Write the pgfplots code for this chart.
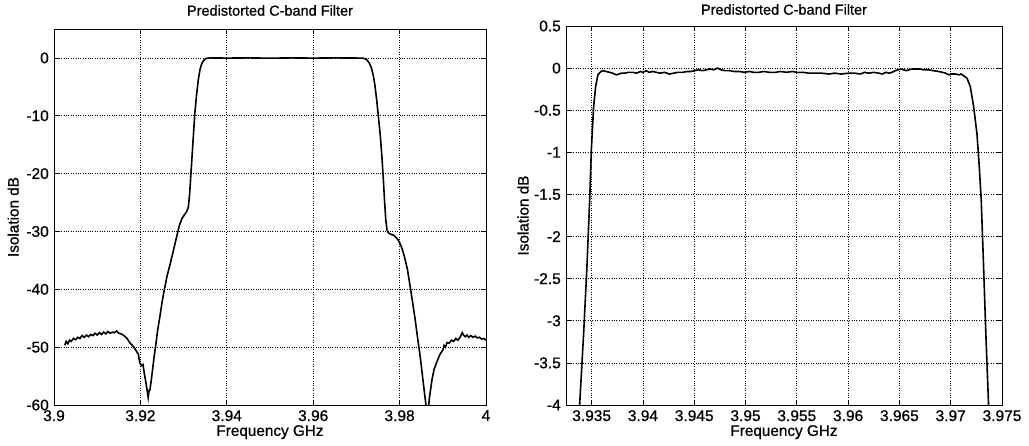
\documentclass[border=0pt]{standalone}
\usepackage{pgfplots}
\pgfplotsset{compat=1.18}
\usepackage{fontspec}
\setmainfont{Liberation Sans}[FakeBold=0.8]
\newcommand{\tlf}{\fontsize{15.5}{15.5}\selectfont}
\newcommand{\lbf}{\fontsize{15.3}{15.3}\selectfont}

\pgfplotsset{
  every axis title shift=0pt,
  matlabstyle/.style={
    scale only axis,
    axis line style={black, line width=0.9pt},
    grid=major,
    major grid style={black, dotted, line width=0.7pt},
    tick align=inside,
    major tick length=5pt,
    tick style={black, line width=0.7pt},
    /pgf/number format/assume math mode=true,
    xticklabel style={font=\tlf, inner sep=0pt, anchor=north, yshift=-5pt},
    yticklabel style={font=\tlf, inner sep=0pt, anchor=east, xshift=-5pt},
    xlabel style={font=\lbf, inner sep=0pt, at={(axis description cs:0.5,0)}, anchor=north, yshift=-20pt},
    ylabel style={font=\lbf, inner sep=0pt, anchor=south},
    title style={font=\fontsize{14.5}{14.5}\selectfont, inner sep=0pt, anchor=south},
    clip=true,
  }
}

\begin{document}
\begin{tikzpicture}
\useasboundingbox (0pt,0pt) rectangle (1029pt,445pt);

% ---------------- left axis ----------------
\begin{axis}[matlabstyle,
  at={(54pt,40pt)}, anchor=south west,
  width=432pt, height=376pt,
  xmin=3.9, xmax=4, ymin=-60, ymax=5,
  xtick={3.9,3.92,3.94,3.96,3.98,4},
  xticklabels={3.9,3.92,3.94,3.96,3.98,4},
  ytick={0,-10,-20,-30,-40,-50,-60},
  yticklabels={0,-10,-20,-30,-40,-50,-60},
  title={Predistorted C-band Filter},
  title style={at={(axis description cs:0.5,1)}, yshift=13pt},
  xlabel={Frequency GHz},
  ylabel={Isolation dB},
  ylabel style={at={(axis description cs:-0.081,0.5)}},
]
\addplot[black, line width=1.6pt] coordinates {
(3.9025,-49.7) (3.9028,-49.0) (3.9032,-49.4) (3.9036,-48.8) (3.9040,-49.0)
(3.9045,-48.5) (3.9050,-48.7) (3.9055,-48.3) (3.9060,-48.5) (3.9065,-48.0)
(3.9070,-48.3) (3.9075,-47.9) (3.9080,-48.2) (3.9085,-47.8) (3.9090,-48.0)
(3.9095,-47.6) (3.9100,-47.9) (3.9105,-47.5) (3.9110,-47.8) (3.9115,-47.4)
(3.9120,-47.7) (3.9125,-47.3) (3.9130,-47.6) (3.9135,-47.4) (3.9140,-47.5)
(3.9145,-47.2) (3.9150,-47.6) (3.9155,-47.7) (3.9160,-47.9) (3.9165,-48.2)
(3.9170,-48.6) (3.9175,-49.2) (3.9180,-49.6) (3.9185,-50.0) (3.9190,-50.6)
(3.9195,-51.2) (3.9199,-52.8) (3.9203,-53.2) (3.9206,-53.0) (3.9209,-54.5)
(3.9212,-55.8) (3.9215,-57.2) (3.9218,-58.7) (3.9220,-57.5) (3.9222,-57.4)
(3.9225,-55.8) (3.9228,-54.0) (3.9232,-51.5) (3.9236,-49.4) (3.9240,-47.0)
(3.9245,-44.8) (3.9250,-42.3) (3.9255,-40.2) (3.9262,-37.6) (3.9269,-35.6)
(3.9276,-33.4) (3.9284,-30.9) (3.9290,-29.0) (3.9296,-27.8) (3.9302,-27.1)
(3.9307,-26.6) (3.9311,-25.8) (3.9314,-23.5) (3.9317,-20.0) (3.9320,-16.5)
(3.9323,-13.0) (3.9326,-9.6) (3.9330,-6.4) (3.9334,-3.8) (3.9338,-2.0)
(3.9342,-1.0) (3.9347,-0.4) (3.9352,-0.08) (3.9360,0) (3.9400,-0.03)
(3.9450,0) (3.9500,-0.04) (3.9550,0) (3.9600,-0.03) (3.9650,0) (3.9700,-0.02)
(3.9716,-0.05) (3.9720,-0.15) (3.9725,-0.4) (3.9730,-0.9) (3.9735,-1.8)
(3.9739,-3.0) (3.9743,-4.8) (3.9747,-7.3) (3.9751,-10.2) (3.9755,-13.2)
(3.9759,-17.0) (3.9762,-20.5) (3.9765,-24.5) (3.9768,-28.0) (3.9771,-29.8)
(3.9775,-30.3) (3.9780,-30.5) (3.9785,-30.6) (3.9790,-30.9) (3.9795,-31.3)
(3.9800,-31.9) (3.9806,-33.0) (3.9812,-34.6) (3.9818,-36.5) (3.9824,-39.3)
(3.9830,-42.2) (3.9836,-45.2) (3.9842,-48.6) (3.9848,-51.8) (3.9853,-55.0)
(3.9858,-58.2) (3.9862,-60.5) (3.9866,-61.0) (3.9869,-58.8) (3.9872,-57.2)
(3.9875,-55.6) (3.9880,-53.8) (3.9886,-52.6) (3.9893,-51.3) (3.9900,-50.5)
(3.9903,-49.7) (3.9906,-50.0) (3.9910,-49.2) (3.9915,-49.3) (3.9920,-48.8)
(3.9925,-49.0) (3.9930,-48.5) (3.9935,-48.8) (3.9940,-48.3) (3.9945,-47.5)
(3.9948,-47.9) (3.9952,-48.2) (3.9956,-47.9) (3.9960,-48.3) (3.9965,-48.0)
(3.9970,-48.3) (3.9975,-48.1) (3.9980,-48.4) (3.9985,-48.3) (3.9990,-48.6)
(3.9995,-48.5) (4.0000,-48.8)
};
\end{axis}

% ---------------- right axis ----------------
\begin{axis}[matlabstyle,
  at={(566pt,40pt)}, anchor=south west,
  width=436pt, height=379pt,
  xmin=3.9325, xmax=3.975, ymin=-4, ymax=0.5,
  xtick={3.935,3.94,3.945,3.95,3.955,3.96,3.965,3.97,3.975},
  xticklabels={3.935,3.94,3.945,3.95,3.955,3.96,3.965,3.97,3.975},
  ytick={0.5,0,-0.5,-1,-1.5,-2,-2.5,-3,-3.5,-4},
  yticklabels={0.5,0,-0.5,-1,-1.5,-2,-2.5,-3,-3.5,-4},
  title={Predistorted C-band Filter},
  title style={at={(axis description cs:0.5,1)}, yshift=11pt},
  xlabel={Frequency GHz},
  ylabel={Isolation dB},
  ylabel style={at={(axis description cs:-0.085,0.5)}},
]
\addplot[black, line width=1.6pt] coordinates {
(3.93383,-4.0) (3.93422,-3.15) (3.93454,-2.36) (3.93481,-1.56) (3.93497,-0.97)
(3.93519,-0.46) (3.93539,-0.22) (3.93561,-0.08) (3.93590,-0.04) (3.93610,-0.03)
(3.93640,-0.04) (3.93675,-0.05) (3.93705,-0.06) (3.93740,-0.08) (3.93765,-0.07)
(3.93789,-0.06) (3.93820,-0.06) (3.93860,-0.05) (3.93902,-0.05) (3.93940,-0.06)
(3.93975,-0.04) (3.94000,-0.05) (3.94032,-0.03) (3.94060,-0.05) (3.94096,-0.04)
(3.94130,-0.05) (3.94170,-0.06) (3.94210,-0.05) (3.94258,-0.07) (3.94300,-0.06)
(3.94340,-0.05) (3.94388,-0.05) (3.94430,-0.04) (3.94470,-0.04) (3.94501,-0.03)
(3.94540,-0.02) (3.94580,-0.03) (3.94620,-0.02) (3.94647,-0.01) (3.94690,-0.02)
(3.94728,0.00) (3.94760,-0.02) (3.94800,-0.03) (3.94842,-0.03) (3.94890,-0.04)
(3.94940,-0.04) (3.94990,-0.05) (3.95036,-0.04) (3.95080,-0.05) (3.95130,-0.05)
(3.95180,-0.04) (3.95230,-0.05) (3.95296,-0.05) (3.95340,-0.04) (3.95400,-0.05)
(3.95457,-0.04) (3.95500,-0.05) (3.95560,-0.05) (3.95619,-0.06) (3.95680,-0.06)
(3.95740,-0.06) (3.95814,-0.07) (3.95870,-0.06) (3.95930,-0.07) (3.96008,-0.06)
(3.96060,-0.06) (3.96120,-0.07) (3.96160,-0.05) (3.96203,-0.06) (3.96250,-0.05)
(3.96300,-0.06) (3.96332,-0.07) (3.96370,-0.05) (3.96400,-0.06) (3.96429,-0.05)
(3.96460,-0.03) (3.96490,-0.02) (3.96511,-0.01) (3.96540,-0.02) (3.96570,-0.03)
(3.96592,-0.02) (3.96630,-0.01) (3.96689,-0.01) (3.96740,-0.02) (3.96786,-0.02)
(3.96830,-0.03) (3.96883,-0.04) (3.96920,-0.05) (3.96950,-0.06) (3.96980,-0.08)
(3.97010,-0.07) (3.97046,-0.07) (3.97080,-0.08) (3.97100,-0.07) (3.97126,-0.09)
(3.97159,-0.12) (3.97191,-0.22) (3.97224,-0.46) (3.97256,-0.78) (3.97279,-1.18)
(3.97298,-1.58) (3.97321,-2.38) (3.97343,-3.17) (3.97369,-4.0)
};
\end{axis}
\end{tikzpicture}
\end{document}
